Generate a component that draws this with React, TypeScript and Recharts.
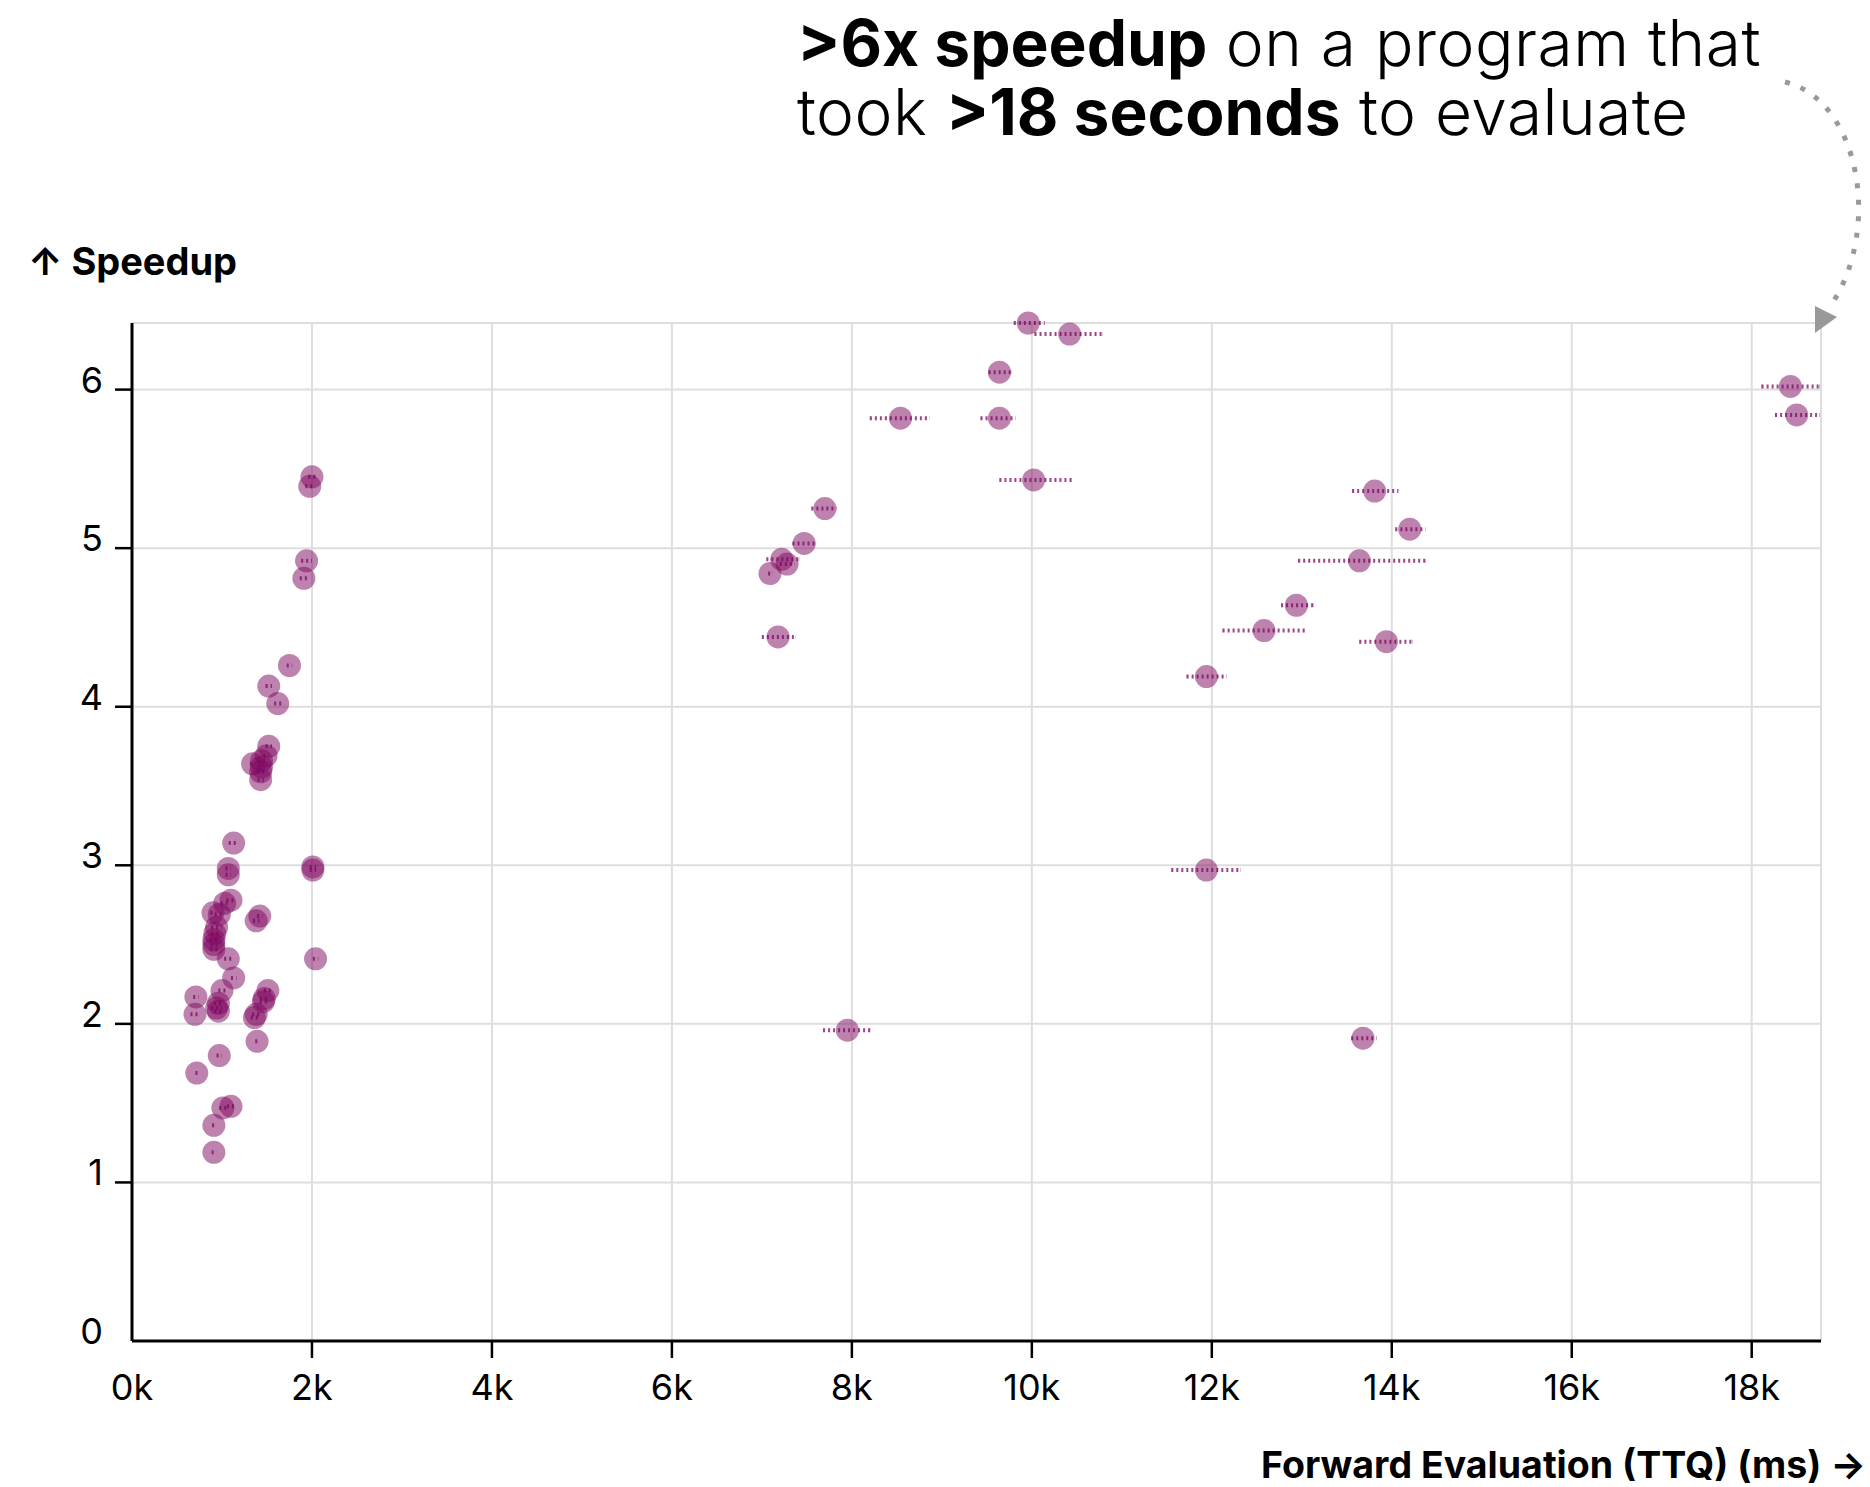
import React from 'react';
import { ScatterChart, Scatter, XAxis, YAxis, CartesianGrid, ErrorBar } from 'recharts';

// ---- data (x in ms, y = speedup) ----
const smallX = [2000, 1975, 1940, 1910, 1750, 1520, 1620, 1520, 1490, 1340, 1440, 1440, 1430, 1430, 1130, 1070, 1070, 2010, 2010, 1100, 1030, 900, 970, 1420, 1380, 920, 910, 910, 910, 940, 1070, 2040, 1130, 710, 1000, 960, 940, 960, 700, 1510, 1470, 1460, 1380, 1360, 1390, 970, 720, 1100, 1010, 910, 910];
const smallY = [5.45, 5.39, 4.92, 4.81, 4.26, 4.13, 4.02, 3.75, 3.69, 3.64, 3.66, 3.62, 3.59, 3.54, 3.14, 2.98, 2.94, 2.99, 2.97, 2.78, 2.76, 2.70, 2.69, 2.68, 2.65, 2.57, 2.53, 2.50, 2.47, 2.61, 2.41, 2.41, 2.29, 2.17, 2.21, 2.13, 2.10, 2.08, 2.06, 2.21, 2.16, 2.14, 2.06, 2.04, 1.89, 1.80, 1.69, 1.48, 1.47, 1.36, 1.19];
const smallSpread = [40, 50, 60, 45, 30, 35, 40, 35, 30, 30, 40, 35, 40, 35, 55, 30, 30, 35, 35, 50, 45, 30, 50, 30, 35, 40, 45, 35, 40, 60, 45, 30, 30, 30, 40, 50, 60, 45, 50, 45, 50, 40, 45, 40, 20, 30, 15, 45, 40, 20, 25];

const largeX = [9960, 10420, 9640, 8540, 9640, 10020, 7700, 7470, 7220, 7280, 7090, 7180, 13810, 14200, 13640, 12940, 12580, 13940, 11940, 11940, 18430, 18500, 7950, 13680];
const largeY = [6.42, 6.35, 6.11, 5.82, 5.82, 5.43, 5.25, 5.03, 4.93, 4.90, 4.84, 4.44, 5.36, 5.12, 4.92, 4.64, 4.48, 4.41, 4.19, 2.97, 6.02, 5.84, 1.96, 1.91];
const largeLow = [9800, 10030, 9520, 8200, 9430, 9640, 7550, 7340, 7050, 7200, 7070, 7000, 13560, 14040, 12960, 12770, 12120, 13640, 11720, 11550, 18110, 18260, 7680, 13550];
const largeHigh = [10140, 10780, 9770, 8860, 9820, 10440, 7830, 7600, 7420, 7360, 7120, 7370, 14070, 14370, 14370, 13130, 13030, 14230, 12160, 12320, 18750, 18750, 8210, 13830];

const xTicks = [0, 2000, 4000, 6000, 8000, 10000, 12000, 14000, 16000, 18000];
const yTicks = [0, 1, 2, 3, 4, 5, 6];
const xDomain = [0, 18770];
const yDomain = [0, 6.42];

const data = [
  ...smallX.map((x, i) => ({ x, y: smallY[i], xErr: [smallSpread[i], smallSpread[i]] })),
  ...largeX.map((x, i) => ({ x, y: largeY[i], xErr: [x - largeLow[i], largeHigh[i] - x] })),
];

const W = 1870;
const H = 1487;
const PURPLE = '#7d0660';
const FONT = 'Inter, "Noto Sans", sans-serif';

const YTick = (props: any) => {
  const { x, y, payload } = props;
  return (
    <g>
      {payload.value !== 0 && <line x1={x - 17} x2={x} y1={y} y2={y} stroke="#000" strokeWidth={2.5} />}
      <text x={x - 29} y={y + 3} textAnchor="end" fontSize={36} fontFamily={FONT} fill="#000">
        {payload.value}
      </text>
    </g>
  );
};

const XTick = (props: any) => {
  const { x, y, payload } = props;
  return (
    <g>
      {payload.value !== 0 && <line x1={x} x2={x} y1={y} y2={y + 17} stroke="#000" strokeWidth={2.5} />}
      <text x={x} y={y + 59} textAnchor="middle" fontSize={36} fontFamily={FONT} fill="#000">
        {`${payload.value / 1000}k`}
      </text>
    </g>
  );
};

const Dot = (p: any) => <circle cx={p.cx} cy={p.cy} r={11.5} fill={PURPLE} fillOpacity={0.5} />;

const spanBase: React.CSSProperties = { display: 'inline-block', lineHeight: '69px', height: 69, verticalAlign: 'top' };
const boldStyle: React.CSSProperties = { ...spanBase, fontWeight: 700 };
const lightStyle: React.CSSProperties = { ...spanBase, fontWeight: 300, letterSpacing: 0.5 };
const lineStyle: React.CSSProperties = { height: 69, lineHeight: '69px' };

export default function App() {
  return (
    <div style={{ position: 'absolute', left: 0, top: 0, width: W, height: H, background: '#fff' }}>
      <ScatterChart width={W} height={H} margin={{ top: 323, right: 49, bottom: 0, left: 0 }}>
        <CartesianGrid stroke="#dedede" strokeWidth={2} />
        <XAxis
          type="number"
          dataKey="x"
          domain={xDomain}
          ticks={xTicks}
          height={146}
          tickLine={false}
          tickSize={0}
          tickMargin={0}
          axisLine={{ stroke: '#000', strokeWidth: 3 }}
          tick={<XTick />}
          interval={0}
        />
        <YAxis
          type="number"
          dataKey="y"
          domain={yDomain}
          ticks={yTicks}
          width={132}
          tickLine={false}
          tickSize={0}
          tickMargin={0}
          axisLine={{ stroke: '#000', strokeWidth: 3 }}
          tick={<YTick />}
          interval={0}
        />
        <Scatter data={data} shape={Dot} isAnimationActive={false}>
          <ErrorBar
            dataKey="xErr"
            direction="x"
            width={0}
            stroke={PURPLE}
            strokeOpacity={0.75}
            strokeWidth={4}
            strokeDasharray="2 3"
            isAnimationActive={false}
          />
        </Scatter>
      </ScatterChart>
      <div
        style={{
          position: 'absolute',
          left: 797,
          top: 8,
          fontFamily: FONT,
          fontSize: 64,
          color: '#000',
          whiteSpace: 'pre',
        }}
      >
        <div style={lineStyle}>
          <span style={boldStyle}>&gt;6x speedup</span>
          <span style={lightStyle}> on a program that</span>
        </div>
        <div style={lineStyle}>
          <span style={lightStyle}>took </span>
          <span style={boldStyle}>&gt;18 seconds</span>
          <span style={lightStyle}> to evaluate</span>
        </div>
      </div>
      <svg width={W} height={H} style={{ position: 'absolute', left: 0, top: 0, pointerEvents: 'none' }}>
        <text x={28} y={275} fontSize={38} fontWeight={700} fontFamily={FONT} fill="#000">↑ Speedup</text>
        <text x={1866} y={1478} fontSize={37.5} fontWeight={700} fontFamily={FONT} fill="#000" textAnchor="end">
          Forward Evaluation (TTQ) (ms) →
        </text>
        <path d="M 1785 82 C 1860 100, 1882 230, 1831 305" fill="none" stroke="#999" strokeWidth={5} strokeDasharray="5 11.5" />
        <polygon points="1815,306 1815,333 1837,317" fill="#999" />
      </svg>
    </div>
  );
}
